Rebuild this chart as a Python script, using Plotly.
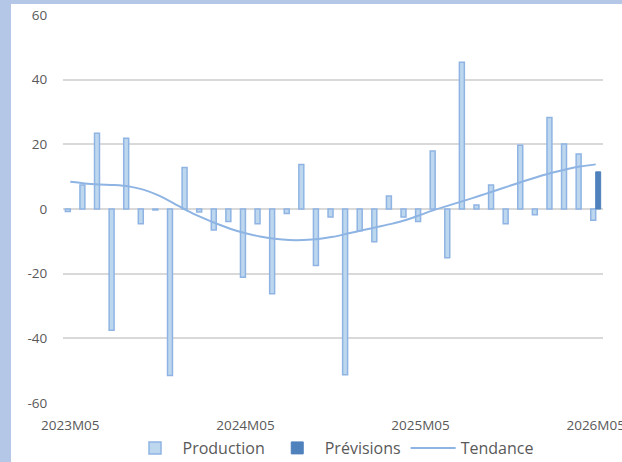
import plotly.graph_objects as go

categories = [
    "2023M05", "2023M06", "2023M07", "2023M08", "2023M09", "2023M10", "2023M11", "2023M12",
    "2024M01", "2024M02", "2024M03", "2024M04", "2024M05", "2024M06", "2024M07", "2024M08",
    "2024M09", "2024M10", "2024M11", "2024M12", "2025M01", "2025M02", "2025M03", "2025M04",
    "2025M05", "2025M06", "2025M07", "2025M08", "2025M09", "2025M10", "2025M11", "2025M12",
    "2026M01", "2026M02", "2026M03", "2026M04", "2026M05",
]
production = [
    -0.8, 7.4, 23.4, -37.5, 21.9, -4.6, -0.3, -51.5,
    12.8, -0.9, -6.5, -3.9, -21.1, -4.6, -26.2, -1.4,
    13.8, -17.5, -2.5, -51.3, -6.7, -10.1, 4.0, -2.5,
    -3.9, 17.9, -15.1, 45.4, 1.2, 7.4, -4.6, 19.7,
    -1.8, 28.3, 20.1, 17.0, -3.5,
]
previsions_cat = ["2026M05"]
previsions = [11.5]
tendance = [
    8.4, 7.9, 7.6, 7.4, 7.0, 6.0, 4.3, 2.0,
    -0.5, -2.6, -4.5, -6.2, -7.5, -8.5, -9.2, -9.6,
    -9.6, -9.3, -8.6, -7.6, -6.6, -5.6, -4.6, -3.4,
    -1.8, -0.2, 1.2, 2.6, 4.0, 5.5, 7.0, 8.5,
    9.9, 11.2, 12.3, 13.2, 13.8,
]
x_tick_labels = ["2023M05", "2024M05", "2025M05", "2026M05"]
boundary_ticks = [-0.5, 11.5, 23.5, 35.5]
y_ticks = [-60, -40, -20, 0, 20, 40, 60]
y_tick_text = ["-60", "-40", "-20", "0", "20", "40", "60"]

FONT = "Open Sans"
TXT = "#595959"
GRID = "#D9D9D9"

fig = go.Figure()
fig.add_trace(go.Bar(
    x=categories, y=production, name="Production",
    marker=dict(color="#BDD7EE", line=dict(color="#8FB4E3", width=1.5)),
))
fig.add_trace(go.Bar(
    x=previsions_cat, y=previsions, name="Prévisions",
    marker=dict(color="#4F81BD", line=dict(color="#4F81BD", width=1)),
))
fig.add_trace(go.Scatter(
    x=categories, y=tendance, name="Tendance", mode="lines",
    line=dict(color="#8EB4E3", width=2, shape="spline", smoothing=0.6),
))

W, H = 622, 462
ml, mr, mt, mb = 63, 19, 15, 59
pw, ph = W - ml - mr, H - mt - mb

fig.update_layout(
    width=W, height=H,
    margin=dict(l=ml, r=mr, t=mt, b=mb, pad=0, autoexpand=False),
    paper_bgcolor="#B4C7E7",
    plot_bgcolor="white",
    barmode="group", bargap=0.32, bargroupgap=0,
    font=dict(family=FONT, color=TXT, size=13),
    showlegend=True,
    legend=dict(
        orientation="h", x=0.5, xanchor="center",
        y=(mt + ph - 448) / ph, yanchor="middle",
        font=dict(family=FONT, size=16, color=TXT),
        bgcolor="rgba(0,0,0,0)", traceorder="normal",
        itemwidth=45,
    ),
    xaxis=dict(
        type="category", categoryorder="array", categoryarray=categories,
        range=[-0.5, 36.5], automargin=False,
        tickmode="array", tickvals=x_tick_labels, ticktext=x_tick_labels,
        ticks="outside", ticklen=10, tickcolor="rgba(0,0,0,0)",
        showgrid=False, showline=False, zeroline=False,
        tickfont=dict(family=FONT, size=13.5, color=TXT),
    ),
    xaxis2=dict(
        overlaying="x", anchor="free", position=0.5, range=[-0.5, 36.5],
        tickmode="array", tickvals=boundary_ticks, showticklabels=False,
        ticks="outside", ticklen=5, tickcolor=GRID, tickwidth=1.5,
        showline=True, linecolor=GRID, linewidth=1.5,
        showgrid=False, zeroline=False, automargin=False,
    ),
    xaxis3=dict(
        overlaying="x", anchor="free", position=0.5, range=[-0.5, 36.5],
        tickmode="array", tickvals=boundary_ticks, showticklabels=False,
        ticks="inside", ticklen=5, tickcolor=GRID, tickwidth=1.5,
        showline=False, showgrid=False, zeroline=False, automargin=False,
    ),
    yaxis=dict(
        range=[-60, 60], tickmode="array", tickvals=y_ticks, ticktext=y_tick_text,
        showgrid=True, gridcolor=GRID, gridwidth=1.5,
        zeroline=True, zerolinecolor=GRID, zerolinewidth=1.5,
        showline=False, automargin=False,
        ticks="outside", ticklen=12, tickcolor="rgba(0,0,0,0)",
        tickfont=dict(family=FONT, size=13.5, color=TXT),
    ),
    shapes=[dict(
        type="rect", xref="paper", yref="paper", layer="below",
        x0=(11 - ml) / pw, x1=(W + 10 - ml) / pw,
        y0=(mt + ph - (H + 10)) / ph, y1=(mt + ph - 4) / ph,
        fillcolor="white", line=dict(width=0),
    )],
)

fig.write_html(
    "out.html",
    config={"displayModeBar": False},
    post_script="document.body.style.margin='0';document.body.style.padding='0';document.body.style.overflow='hidden';",
)
